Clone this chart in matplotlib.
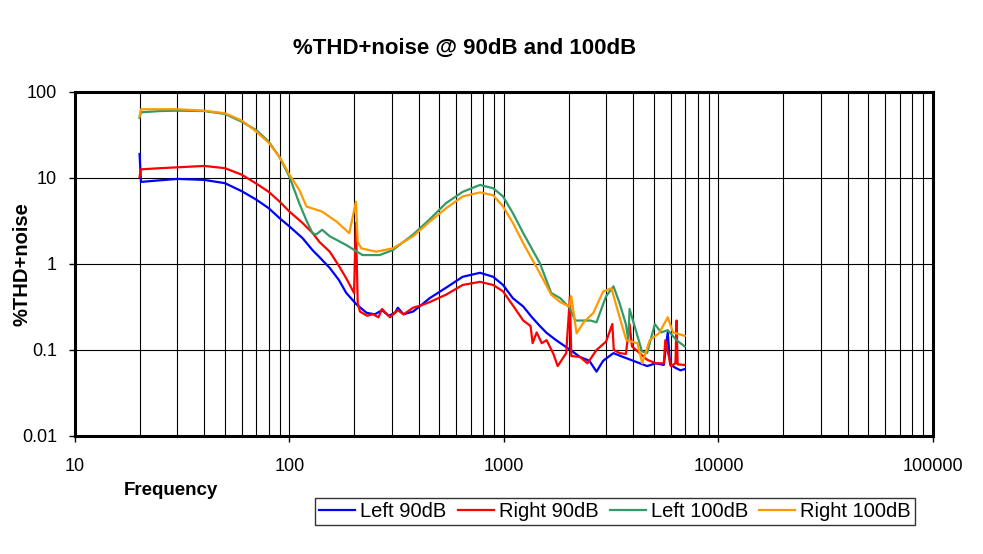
import matplotlib
matplotlib.use("Agg")
import matplotlib.pyplot as plt
from matplotlib.ticker import LogLocator, FixedLocator, NullFormatter, NullLocator

plt.rcParams['font.family'] = ['Liberation Sans', 'DejaVu Sans']

# Left 90dB
left90_f = [20, 20.3, 25, 30, 40, 50, 60, 70, 80, 90, 100, 115, 128, 138, 154, 170, 184, 205,
            229, 250, 270, 290, 310, 320, 340, 377, 410, 450, 537, 642, 773, 890, 990, 1100,
            1230, 1350, 1470, 1580, 1750, 1950, 2100, 2260, 2500, 2700, 2900, 3240, 3500,
            3890, 4300, 4650, 5100, 5560, 5800, 5950, 6300, 6650, 6960]
left90_v = [19, 9.0, 9.4, 9.75, 9.5, 8.7, 7.0, 5.6, 4.45, 3.4, 2.73, 2.0, 1.45, 1.2, 0.9, 0.65,
            0.46, 0.34, 0.27, 0.26, 0.29, 0.25, 0.27, 0.31, 0.26, 0.28, 0.33, 0.40, 0.53, 0.71,
            0.79, 0.71, 0.57, 0.40, 0.32, 0.24, 0.19, 0.158, 0.13, 0.108, 0.095, 0.083, 0.075,
            0.056, 0.075, 0.092, 0.085, 0.077, 0.07, 0.065, 0.07, 0.067, 0.16, 0.068, 0.062,
            0.058, 0.06]

# Right 90dB
right90_f = [20, 20.3, 25, 30, 40, 50, 60, 70, 80, 90, 100, 115, 128, 138, 154, 170, 184, 200,
             204, 208, 213, 230, 245, 260, 270, 294, 320, 340, 377, 410, 450, 537, 642, 773,
             890, 990, 1100, 1230, 1330, 1360, 1420, 1500, 1580, 1700, 1780, 1950, 2030, 2060,
             2260, 2450, 2700, 2990, 3200, 3250, 3460, 3700, 3850, 3950, 4650, 5100, 5560,
             5650, 6000, 6300, 6380, 6450, 6960]
right90_v = [10.3, 12.6, 13.0, 13.3, 13.8, 13.0, 10.9, 8.6, 6.9, 5.3, 4.06, 3.0, 2.3, 1.8,
             1.39, 0.95, 0.68, 0.46, 3.0, 0.35, 0.28, 0.25, 0.26, 0.24, 0.30, 0.24, 0.29, 0.26,
             0.31, 0.33, 0.36, 0.44, 0.57, 0.62, 0.57, 0.48, 0.33, 0.22, 0.19, 0.12, 0.16,
             0.12, 0.13, 0.09, 0.065, 0.092, 0.42, 0.085, 0.083, 0.07, 0.1, 0.125, 0.2, 0.1,
             0.092, 0.09, 0.2, 0.11, 0.077, 0.07, 0.07, 0.13, 0.065, 0.07, 0.22, 0.068, 0.067]

# Left 100dB
left100_f = [20, 20.3, 25, 30, 40, 50, 60, 70, 80, 90, 100, 111, 120, 128, 133, 142, 154, 184,
             219, 263, 303, 377, 450, 537, 642, 773, 890, 990, 1100, 1230, 1470, 1660, 1830,
             2020, 2150, 2530, 2700, 2990, 3240, 3460, 3700, 3800, 3850, 4400, 4650, 5050,
             5400, 5800, 6380, 6960]
left100_v = [50, 58, 60, 60.6, 60, 55.5, 45, 36, 26.5, 17.4, 10.3, 5.1, 3.2, 2.28, 2.2, 2.5,
             2.1, 1.66, 1.27, 1.27, 1.45, 2.2, 3.3, 5.1, 6.9, 8.3, 7.6, 6.1, 3.9, 2.28, 1.02,
             0.46, 0.40, 0.31, 0.22, 0.22, 0.21, 0.42, 0.55, 0.35, 0.2, 0.13, 0.3, 0.096, 0.092,
             0.2, 0.16, 0.17, 0.13, 0.11]

# Right 100dB
right100_f = [20, 20.3, 25, 30, 40, 50, 60, 70, 80, 90, 100, 111, 120, 142, 166, 190, 204,
              208, 216, 254, 303, 377, 450, 537, 642, 773, 890, 990, 1100, 1230, 1470, 1660,
              1830, 2020, 2060, 2180, 2350, 2610, 2900, 3170, 3460, 3720, 4190, 4410, 4780,
              5280, 5800, 6140, 6960]
right100_v = [52, 62.9, 63, 63, 60.6, 56.5, 46.4, 34.6, 25.7, 17.4, 10.9, 7.3, 4.66, 4.06,
              3.1, 2.28, 5.3, 1.8, 1.52, 1.39, 1.52, 2.1, 3.1, 4.45, 6.1, 6.8, 6.3, 4.66, 3.0,
              1.74, 0.78, 0.44, 0.36, 0.32, 0.42, 0.156, 0.21, 0.27, 0.48, 0.52, 0.24, 0.13,
              0.12, 0.07, 0.13, 0.156, 0.24, 0.16, 0.146]

series = [
    ("Left 90dB", left90_f, left90_v, "#0000ff"),
    ("Right 90dB", right90_f, right90_v, "#ff0000"),
    ("Left 100dB", left100_f, left100_v, "#339966"),
    ("Right 100dB", right100_f, right100_v, "#ff9900"),
]

x_ticks = [10, 100, 1000, 10000, 100000]
y_ticks = [0.01, 0.1, 1, 10, 100]

fig = plt.figure(figsize=(9.83, 5.54), dpi=100)
ax = fig.add_axes([0.0763, 0.213, 0.8728, 0.621])

for name, f, v, c in series:
    ax.plot(f, v, color=c, lw=1.6, label=name)

ax.set_xscale("log")
ax.set_yscale("log")
ax.set_xlim(10, 100000)
ax.set_ylim(0.01, 100)

ax.xaxis.set_major_locator(FixedLocator(x_ticks))
ax.xaxis.set_minor_locator(LogLocator(base=10, subs=range(2, 10), numticks=20))
ax.xaxis.set_minor_formatter(NullFormatter())
ax.set_xticklabels([str(t) for t in x_ticks])
ax.yaxis.set_major_locator(FixedLocator(y_ticks))
ax.yaxis.set_minor_locator(NullLocator())
ax.set_yticklabels(["0.01", "0.1", "1", "10", "100"])

ax.grid(which="both", axis="x", color="black", lw=0.8)
ax.grid(which="major", axis="y", color="black", lw=0.8)
ax.set_axisbelow(True)

ax.tick_params(which="major", direction="out", length=4, width=1, labelsize=13, pad=9)
ax.tick_params(axis="x", which="major", pad=12)
ax.tick_params(which="minor", length=0)
for s in ax.spines.values():
    s.set_linewidth(2.2)

ax.set_xlabel("Frequency", fontsize=13.5, fontweight="bold")
ax.xaxis.set_label_coords(0.112, -0.135)
fig.text(0.0224, 0.5235, "%THD+noise", rotation=90, ha="center", va="center",
         fontsize=14.5, fontweight="bold")
fig.text(0.4725, 0.913, "%THD+noise @ 90dB and 100dB", ha="center", va="center",
         fontsize=16, fontweight="bold")

leg = fig.legend(loc="center", bbox_to_anchor=(0.6257, 0.0767), ncol=4, fontsize=14.5,
                 frameon=True, fancybox=False, edgecolor="black", handlelength=1.8,
                 columnspacing=0.55, handletextpad=0.25, borderpad=0.2, borderaxespad=0)
leg.get_frame().set_linewidth(1.0)

fig.savefig("out.png", dpi=100)
